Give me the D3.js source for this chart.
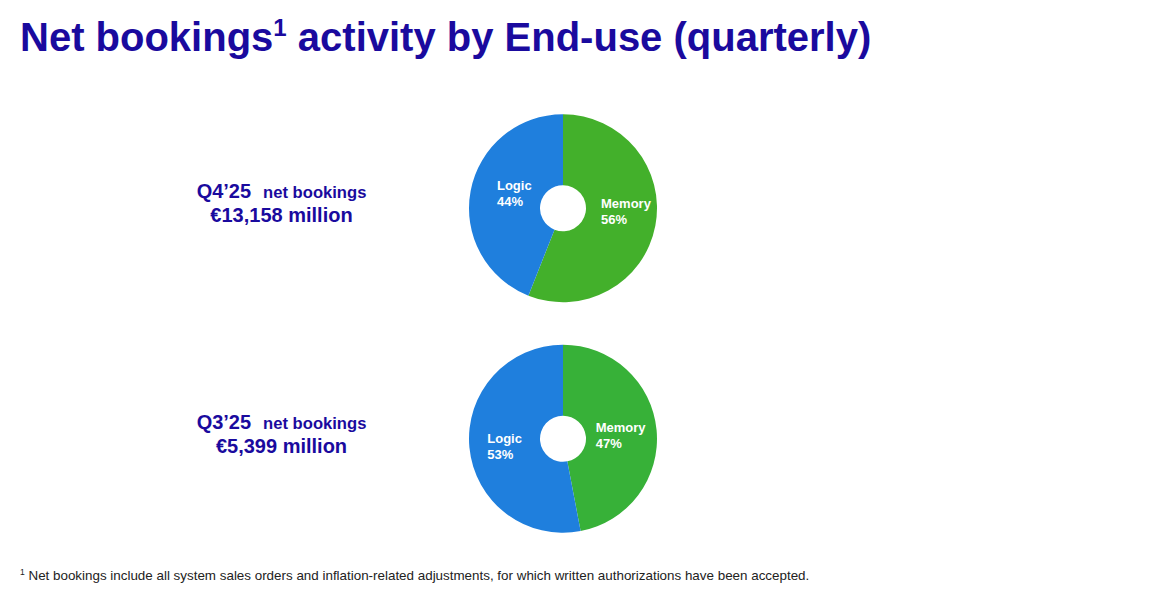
<!DOCTYPE html>
<html>
  <head>
    <meta charset="UTF-8">
    <title>Net bookings activity by End-use</title>
    <script src="https://d3js.org/d3.v7.min.js"></script>
    <style>
      body { margin: 0; background: #fff; }
      text { font-family: "Liberation Sans", Arial, sans-serif; }
    </style>
  </head>
  <body>
    <svg width="1167" height="593"></svg>
    <script>
      // data
      const quarters = ["Q4\u201925", "Q3\u201925"];
      const bookings = ["\u20ac13,158 million", "\u20ac5,399 million"];
      const segments = ["Memory", "Logic"];
      const shares = [
        [56, 44],
        [47, 53],
      ];

      const width = 1167;
      const height = 593;
      const navy = "#1a0a9e";

      // hand-placed label offsets from the slice centroid, as in the slide
      const labelNudge = [
        { Memory: [1, -9], Logic: [7, -6] },
        { Memory: [-5, 1], Logic: [-2, 1] },
      ];

      const svg = d3.select("svg");

      const title = svg.append("text")
        .attr("x", 20)
        .attr("y", 51)
        .attr("fill", navy)
        .attr("font-size", 40)
        .attr("font-weight", "bold");
      title.append("tspan").text("Net bookings");
      title.append("tspan").attr("font-size", 24).attr("dy", -15).text("1");
      title.append("tspan").attr("dy", 15).text(" activity by End-use (quarterly)");

      const color = d3.scaleOrdinal()
        .domain(segments)
        .range(["#40b02f", "#1f7fdd"]);
      const memoryGreens = ["#43b02b", "#37b138"];

      const y = d3.scaleBand()
        .domain(quarters)
        .range([93, 554]);

      const pie = d3.pie().sort(null).value(d => d.value);
      const arc = d3.arc().innerRadius(23).outerRadius(94);
      const labelArc = d3.arc().innerRadius(56).outerRadius(56);

      quarters.forEach((q, i) => {
        const cy = y(q) + y.bandwidth() / 2;
        const rows = segments.map((s, j) => ({ name: s, value: shares[i][j] }));

        const g = svg.append("g").attr("transform", `translate(563,${cy})`);
        g.selectAll("path")
          .data(pie(rows))
          .join("path")
          .attr("d", arc)
          .attr("fill", d => d.data.name === "Memory" ? memoryGreens[i] : color(d.data.name));

        const lbl = g.selectAll("text.lbl")
          .data(pie(rows))
          .join("text")
          .attr("class", "lbl")
          .attr("fill", "#fff")
          .attr("font-size", 13)
          .attr("font-weight", "bold")
          .attr("transform", d => {
            const [lx, ly] = labelArc.centroid(d);
            const [nx, ny] = labelNudge[i][d.data.name];
            return `translate(${lx + nx},${ly + ny})`;
          });
        lbl.append("tspan").attr("x", -18).attr("dy", -2).text(d => d.data.name);
        lbl.append("tspan").attr("x", -18).attr("dy", 16).text(d => d.data.value + "%");

        const left = svg.append("text")
          .attr("x", 281.5)
          .attr("y", cy - 10)
          .attr("text-anchor", "middle")
          .attr("fill", navy)
          .attr("font-weight", "bold");
        left.append("tspan").attr("font-size", 20).text(q);
        left.append("tspan").attr("font-size", 16.6).attr("dx", 12).text("net bookings");
        svg.append("text")
          .attr("x", 281.5)
          .attr("y", cy + 14)
          .attr("text-anchor", "middle")
          .attr("fill", navy)
          .attr("font-size", 20)
          .attr("font-weight", "bold")
          .text(bookings[i]);
      });

      const note = svg.append("text")
        .attr("x", 20)
        .attr("y", 580)
        .attr("fill", "#222")
        .attr("font-size", 13.4);
      note.append("tspan").attr("font-size", 8.5).attr("dy", -5).text("1");
      note.append("tspan").attr("dy", 5).text(" Net bookings include all system sales orders and inflation-related adjustments, for which written authorizations have been accepted.");
    </script>
  </body>
</html>
